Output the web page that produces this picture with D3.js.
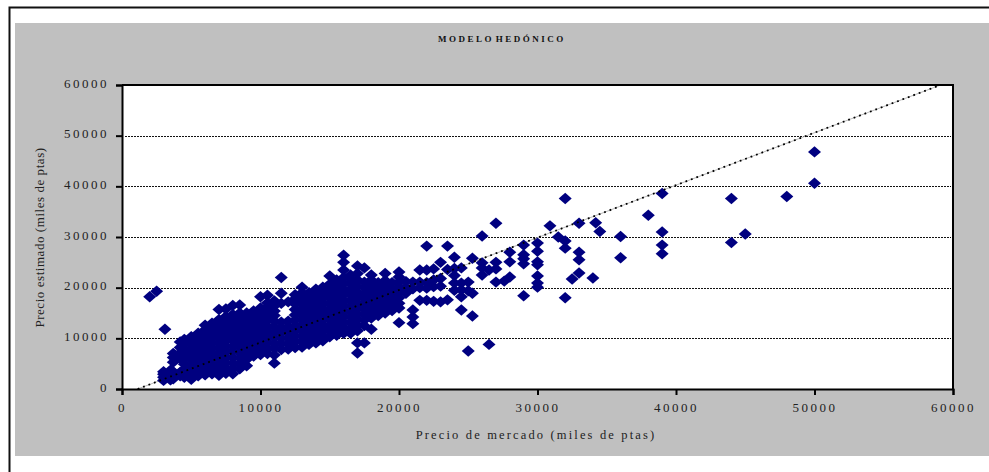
<!DOCTYPE html>
<html>
<head>
<meta charset="utf-8">
<script src="https://cdn.jsdelivr.net/npm/d3@7"></script>
<style>
	body { margin: 0; background: white; }
	svg { display: block; }
	text { font-family: "Liberation Serif", serif; fill: #222; }
</style>
</head>
<body>
<div id="vizContainer"></div>
<script>
let w = 989;
let h = 472;

// one entry per market price, estimated prices listed for that price
let mercado = [3000, 3500, 3700, 4200, 4500, 5000, 5500, 6000, 6500, 7000, 7500, 8000, 8500, 9000, 9500, 10000, 10500,
	11000, 11500, 12000, 12500, 13000, 13500, 14000, 14500, 15000, 15500, 16000, 16500, 17000, 17500, 18000, 18500,
	19000, 19500, 20000, 20500, 21000, 21500, 22000, 22500, 23000, 23500, 24000, 24500, 25000, 25300, 26000, 26500,
	27000, 27600, 28000, 29000, 30000];
let estimado = [
	[1700, 2300, 2900, 3400],
	[1800, 2500, 3100, 3700],
	[2000, 2700, 3400, 5300, 6200, 7000],
	[2600, 3300, 6000, 7100, 8200, 9300],
	[2300, 3000, 3900, 4900, 5900, 6900, 7900, 8900, 9800],
	[1900, 2800, 3800, 4700, 5800, 6700, 7800, 8800, 9700, 10300],
	[2600, 3500, 4400, 5500, 6400, 7500, 8400, 9500, 10400, 11000],
	[2800, 3700, 4800, 5700, 6800, 7900, 8900, 9900, 10900, 11700, 12600],
	[3000, 4000, 5000, 6100, 7100, 8200, 9200, 10300, 11200, 12200, 13000],
	[2700, 3600, 4700, 5800, 6900, 8000, 9100, 10100, 11100, 12100, 13100, 13700, 15700],
	[3100, 4100, 5200, 6300, 7300, 8400, 9500, 10500, 11500, 12500, 13500, 14300, 15800],
	[3000, 4000, 5100, 6200, 7400, 8500, 9600, 10700, 11800, 12800, 13800, 14700, 16500],
	[4000, 5000, 6100, 7200, 8300, 9300, 10400, 11400, 12500, 13500, 14300, 15000, 16600],
	[4600, 5800, 6900, 7900, 9000, 10100, 11200, 12300, 13200, 14100, 15000],
	[6500, 7500, 8500, 9500, 10600, 11700, 12800, 13800, 14700, 15400],
	[6800, 7900, 8900, 10000, 11000, 12100, 13100, 14200, 15200, 16000, 18200],
	[7000, 8100, 9200, 10300, 11300, 12400, 13500, 14500, 15500, 16200, 17000, 18500],
	[5100, 6700, 8000, 9000, 10100, 11200, 12300, 13400, 14500, 15400, 16400, 17400],
	[7800, 8900, 10000, 11100, 12100, 13200, 16900, 18900, 22000],
	[7900, 9000, 10100, 11200, 12300, 13400, 17200],
	[8200, 9300, 10400, 11500, 12500, 13600, 14600, 15700, 16800, 17800, 18600],
	[8300, 9400, 10500, 11600, 12700, 13700, 14800, 15900, 16900, 18000, 19000, 20100],
	[8800, 9900, 11000, 12000, 13000, 14100, 15200, 16200, 17300, 18300, 19000],
	[9100, 10200, 11200, 12300, 13400, 14500, 15500, 16600, 17600, 18700, 19700],
	[9500, 10500, 11600, 12700, 13800, 14800, 15900, 17000, 18100, 19200, 20100],
	[10300, 11400, 12500, 13600, 14700, 15700, 16800, 17900, 18900, 19900, 20700, 22300],
	[10600, 11700, 12800, 13900, 15000, 16100, 17200, 18300, 19300, 20400, 21500],
	[11000, 12100, 13200, 14300, 15400, 16500, 17500, 18600, 19700, 20800, 22000, 23500, 25000, 26400],
	[11000, 12000, 13100, 14200, 15300, 16400, 17500, 18600, 19600, 20700, 21700, 22500],
	[7100, 9100, 11500, 12600, 13700, 14800, 15900, 16900, 18000, 19000, 20200, 21500, 22800, 24300],
	[9100, 12500, 13600, 14700, 15800, 16900, 17900, 18900, 20000, 21100, 23900],
	[11800, 14000, 15100, 16200, 17200, 18300, 19400, 20400, 21500, 22500],
	[14500, 15700, 16800, 17900, 18900, 20000, 21000],
	[15000, 16100, 17200, 18200, 19300, 20400, 21400, 22800],
	[15500, 16600, 17700, 18800, 19700, 21000],
	[13100, 16000, 16900, 18000, 19100, 20200, 21100, 22100, 23100],
	[18900, 20000, 21200],
	[12900, 14200, 15600, 19800, 21100],
	[17500, 20000, 21100, 23500],
	[17500, 19900, 21000, 23500, 28200],
	[17300, 20200, 21500, 23700],
	[17200, 20300, 21800, 25000],
	[17600, 23600, 28200],
	[19500, 20900, 22400, 23800, 26000],
	[15600, 18200, 19600, 20900, 23900],
	[7500, 19400, 21100],
	[14400, 18900, 25800],
	[22500, 23900, 24900, 30200],
	[8800, 23500],
	[21100, 23700, 25000, 32700],
	[21300],
	[22100, 25100, 27000],
	[18400, 24700, 25700, 26500, 28400],
	[20100, 20900, 22300, 24500, 25100, 27200, 28800]
];

// the sparse points out on the edges of the chart
let sueltosX = [2000, 2500, 3100, 30900, 31500, 32000, 32000, 32000, 32000, 32500, 33000, 33000, 33000, 33000, 34000,
	34200, 34500, 36000, 36000, 38000, 39000, 39000, 39000, 39000, 44000, 44000, 45000, 48000, 50000, 50000];
let sueltosY = [18200, 19300, 11800, 32200, 30000, 37600, 29200, 27800, 18000, 21700, 32700, 27000, 25500, 22900, 21900,
	32800, 31100, 30100, 25900, 34300, 38600, 31000, 28400, 26700, 37600, 28900, 30600, 38000, 46800, 40600];

// fitted line, both ends
let rectaX = [1130, 59100];
let rectaY = [0, 60000];

let ticksX = [0, 10000, 20000, 30000, 40000, 50000, 60000];
let ticksY = [0, 10000, 20000, 30000, 40000, 50000, 60000];

let viz = d3.select('#vizContainer').append('svg')
	.attr('width', w)
	.attr('height', h)
	.attr('class', 'viz')
	;

let xScale = d3.scaleLinear().domain([0, 60000]).range([122, 953])
let yScale = d3.scaleLinear().domain([0, 60000]).range([389, 85])

// outer frame
viz.append('path')
	.attr('d', 'M9.5,472V7.5H989')
	.attr('fill', 'none')
	.attr('stroke', '#111')
	.attr('stroke-width', 2)
	;

viz.append('rect')
	.attr('x', 15).attr('y', 23)
	.attr('width', 974).attr('height', 433)
	.attr('fill', '#c0c0c0')
	;

viz.append('rect')
	.attr('x', xScale(0)).attr('y', yScale(60000))
	.attr('width', xScale(60000) - xScale(0))
	.attr('height', yScale(0) - yScale(60000))
	.attr('fill', 'white')
	;

// gridlines
viz.append('g').selectAll('line').data(ticksY.slice(1, -1)).enter().append('line')
	.attr('x1', xScale(0) + 3)
	.attr('x2', xScale(60000) - 2)
	.attr('y1', function(d){ return Math.round(yScale(d)) + 0.5 })
	.attr('y2', function(d){ return Math.round(yScale(d)) + 0.5 })
	.attr('stroke', '#111')
	.attr('stroke-dasharray', '2,1')
	;

// fitted line: thin grey under the marks, black dots over them
let recta = d3.line()
	.x(function(d){ return xScale(d) })
	.y(function(d, i){ return yScale(rectaY[i]) });

viz.append('path')
	.attr('d', recta(rectaX))
	.attr('stroke', '#bbb')
	.attr('stroke-width', 1)
	.attr('fill', 'none')
	;

let points = [];
mercado.forEach(function(x, i){
	estimado[i].forEach(function(y){
		points.push([x, y]);
	});
});
sueltosX.forEach(function(x, i){
	points.push([x, sueltosY[i]]);
});

viz.append('g').selectAll('path').data(points).enter().append('path')
	.attr('d', 'M0,-5.7L6.5,0L0,5.7L-6.5,0Z')
	.attr('transform', function(d){
		return 'translate(' + xScale(d[0]) + ',' + yScale(d[1]) + ')'
	})
	.attr('fill', '#000080')
	;

viz.append('path')
	.attr('d', recta(rectaX))
	.attr('stroke', 'black')
	.attr('stroke-width', 1.8)
	.attr('stroke-dasharray', '1.8,4')
	.attr('fill', 'none')
	;

// box on top, axes after it
let axisLeft = d3.axisLeft(yScale).tickValues(ticksY).tickFormat(d3.format('d')).tickSize(6).tickPadding(7);
let axisBottom = d3.axisBottom(xScale).tickValues(ticksX).tickFormat(d3.format('d')).tickSize(6).tickPadding(8);

let yAxis = viz.append('g').attr('transform', 'translate(' + xScale(0) + ',0)').call(axisLeft);
let xAxis = viz.append('g').attr('transform', 'translate(0,' + yScale(0) + ')').call(axisBottom);

yAxis.selectAll('.domain, line').attr('stroke', '#000').attr('stroke-width', 2);
xAxis.selectAll('.domain, line').attr('stroke', '#000').attr('stroke-width', 2);
yAxis.selectAll('text').attr('y', -2);

viz.selectAll('g text')
	.style('font-family', '"Liberation Serif", serif')
	.style('font-size', '13px')
	.style('letter-spacing', '2.5px')
	.attr('fill', '#222')
	;

viz.append('path')
	.attr('d', 'M' + xScale(0) + ',' + yScale(60000) + 'H' + xScale(60000) + 'V' + yScale(0))
	.attr('fill', 'none')
	.attr('stroke', '#000')
	.attr('stroke-width', 2)
	;

// titles
viz.append('text')
	.attr('x', 502).attr('y', 42)
	.attr('text-anchor', 'middle')
	.style('font-size', '9px')
	.style('font-weight', 'bold')
	.style('letter-spacing', '2.5px')
	.style('word-spacing', '-3px')
	.style('fill', '#111')
	.text('MODELO HEDÓNICO')
	;

viz.append('text')
	.attr('x', 536).attr('y', 439)
	.attr('text-anchor', 'middle')
	.style('font-size', '12.5px')
	.style('letter-spacing', '2.15px')
	.text('Precio de mercado (miles de ptas)')
	;

viz.append('text')
	.attr('transform', 'translate(44,237.5) rotate(-90)')
	.attr('text-anchor', 'middle')
	.style('font-size', '13px')
	.style('letter-spacing', '0.55px')
	.text('Precio estimado (miles de ptas)')
	;
</script>
</body>
</html>
